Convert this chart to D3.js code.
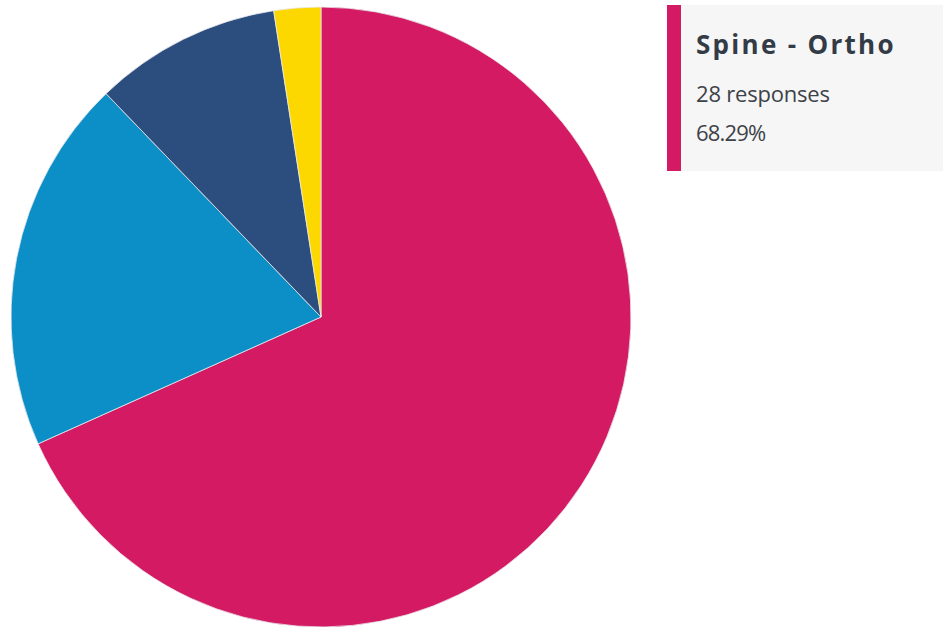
<!DOCTYPE html>
<html>
<head>
<meta charset="utf-8">
<script src="https://cdn.jsdelivr.net/npm/d3@7"></script>
<style>
  html, body { margin: 0; padding: 0; background: #ffffff; }
  svg { display: block; }
</style>
</head>
<body>
<svg id="chart" width="943" height="627"></svg>
<script>
// Survey answers per specialty
const categories = ["Spine - Ortho", "Spine - Neuro", "Other", "Pain"];
const responses = [28, 8, 4, 1];
const colors = ["#d31a63", "#0b8fc6", "#2c4e7e", "#fdd800"];

const total = d3.sum(responses);
const svg = d3.select("#chart");

const cx = 321, cy = 317, radius = 310;

const pie = d3.pie().value(d => d.value).sort(null);
const arc = d3.arc().innerRadius(0).outerRadius(radius);

const data = categories.map((c, i) => ({ name: c, value: responses[i], color: colors[i] }));

const g = svg.append("g").attr("transform", `translate(${cx},${cy})`);

g.selectAll("path")
  .data(pie(data))
  .join("path")
  .attr("d", arc)
  .attr("fill", d => d.data.color)
  .attr("stroke", "#e8e8ee")
  .attr("stroke-width", 0.8)
  .attr("stroke-linejoin", "round");

// Highlight card for the leading slice
const lead = data[0];
const pct = (lead.value / total * 100).toFixed(2) + "%";
const card = svg.append("g").attr("transform", "translate(667,5)");
card.append("rect").attr("width", 276).attr("height", 166).attr("fill", "#f6f6f6");
card.append("rect").attr("width", 14).attr("height", 166).attr("fill", lead.color);
card.append("text")
  .attr("x", 29).attr("y", 49)
  .attr("font-family", "'Open Sans', sans-serif")
  .attr("font-weight", 700)
  .attr("font-size", 26)
  .attr("letter-spacing", 2.3)
  .attr("fill", "#333b46")
  .text(lead.name);
card.append("text")
  .attr("x", 29).attr("y", 96.5)
  .attr("font-family", "'Open Sans', sans-serif")
  .attr("font-size", 22)
  .attr("letter-spacing", -0.2)
  .attr("fill", "#3d4248")
  .text(`${lead.value} responses`);
card.append("text")
  .attr("x", 29).attr("y", 135.5)
  .attr("font-family", "'Open Sans', sans-serif")
  .attr("font-size", 22)
  .attr("letter-spacing", -0.8)
  .attr("fill", "#3d4248")
  .text(pct);
</script>
</body>
</html>
